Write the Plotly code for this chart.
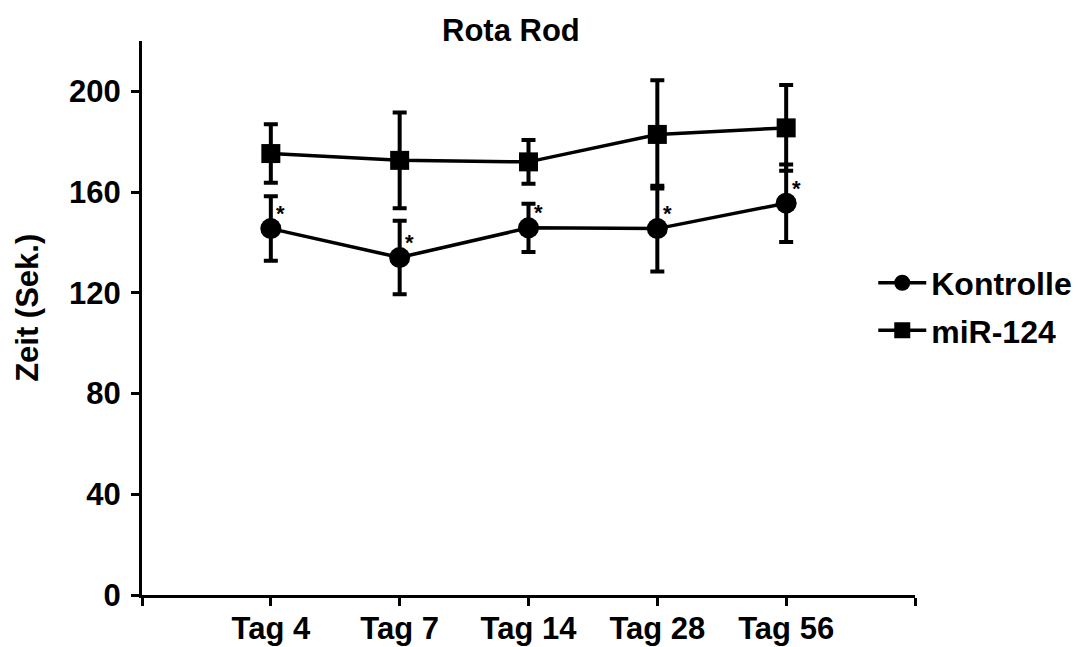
import plotly.graph_objects as go

# Rota Rod performance per time point (seconds), mean and error
tage = ["Tag 4", "Tag 7", "Tag 14", "Tag 28", "Tag 56"]
kontrolle_mean = [145.5, 134.0, 145.8, 145.5, 155.6]
kontrolle_err = [12.8, 14.6, 9.6, 17.0, 15.4]
mir124_mean = [175.3, 172.6, 172.0, 182.9, 185.5]
mir124_err = [11.6, 19.0, 8.7, 21.5, 17.0]
signif = ["*", "*", "*", "*", "*"]

x_idx = list(range(len(tage)))
FONT = "Liberation Sans"
FS = 31

fig = go.Figure()

def add_series(name, mean, err, symbol, size):
    fig.add_trace(go.Scatter(
        x=x_idx, y=mean, name=name, mode="lines+markers",
        line=dict(color="black", width=3.5),
        marker=dict(symbol=symbol, size=size, color="black"),
        error_y=dict(type="data", array=err, visible=True,
                     color="black", thickness=4, width=7),
        legendgroup=name,
    ))

add_series("Kontrolle", kontrolle_mean, kontrolle_err, "circle", 21)
add_series("miR-124", mir124_mean, mir124_err, "square", 19)

# significance stars next to the control markers
for xi, yv, s in zip(x_idx, kontrolle_mean, signif):
    fig.add_annotation(x=xi, y=yv, text=s, showarrow=False, xshift=10, yshift=15,
                       font=dict(family=FONT, size=22, color="black", weight="bold"))

fig.add_annotation(x=0.477, y=1.0, xref="paper", yref="paper", yanchor="middle",
                   yshift=11, text="Rota Rod", showarrow=False,
                   font=dict(family=FONT, size=FS, color="black", weight="bold"))
fig.add_annotation(x=-0.149, y=0.518, xref="paper", yref="paper", textangle=-90,
                   xanchor="center", yanchor="middle",
                   text="Zeit (Sek.)", showarrow=False,
                   font=dict(family=FONT, size=FS, color="black", weight="bold"))

fig.update_layout(
    width=1082, height=647,
    margin=dict(l=142, r=167, t=41, b=52, autoexpand=False),
    paper_bgcolor="white", plot_bgcolor="white",
    showlegend=True,
    legend=dict(x=0.946, y=0.52, xanchor="left", yanchor="middle",
                itemwidth=48,
                font=dict(family=FONT, size=32, color="black", weight="bold"),
                tracegroupgap=3, bgcolor="rgba(0,0,0,0)"),
)

fig.update_xaxes(
    range=[-1, len(tage)], tickvals=list(range(-1, len(tage) + 1)),
    ticktext=[""] + tage + [""],
    showgrid=False, zeroline=False, showline=True, linecolor="black", linewidth=3,
    ticks="outside", ticklen=8, tickwidth=3, tickcolor="black",
    ticklabelstandoff=-4, automargin=False,
    tickfont=dict(family=FONT, size=FS, color="black", weight="bold"),
)
fig.update_yaxes(
    range=[0, 220], tickvals=[0, 40, 80, 120, 160, 200],
    showgrid=False, zeroline=False, showline=True, linecolor="black", linewidth=3,
    ticks="outside", ticklen=8, tickwidth=3, tickcolor="black",
    ticklabelstandoff=4, automargin=False,
    tickfont=dict(family=FONT, size=FS, color="black", weight="bold"),
)

fig.write_html("out.html")
